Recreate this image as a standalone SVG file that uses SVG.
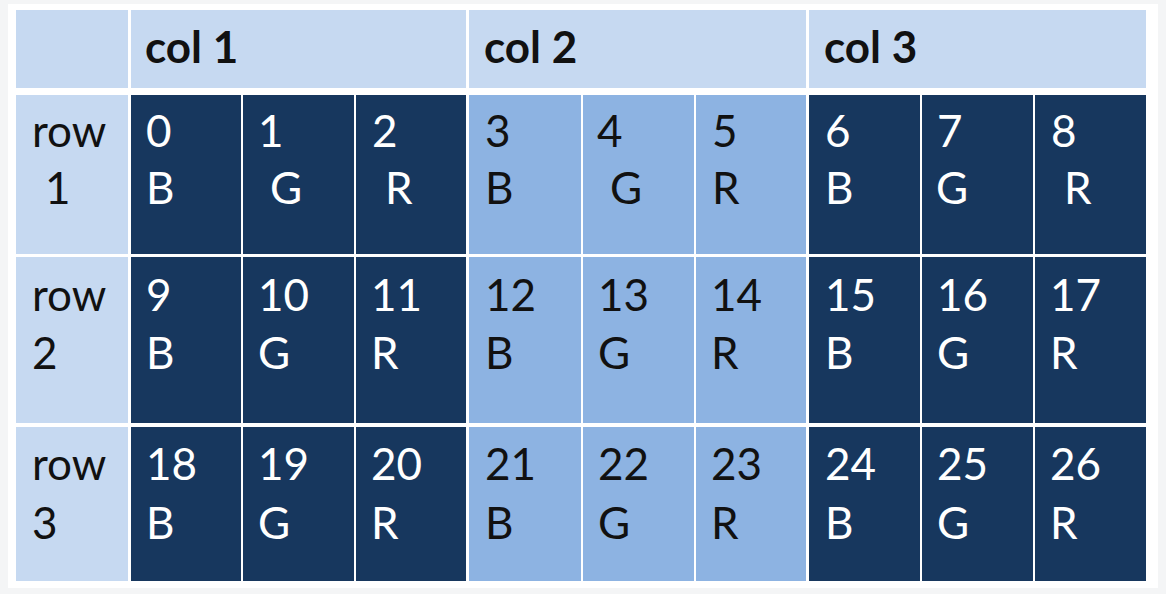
<svg xmlns="http://www.w3.org/2000/svg" width="1166" height="594" viewBox="0 0 1166 594">
<style>
  .hdr{fill:#c6d9f1}
  .lbl{fill:#c6d9f1}
  .dk{fill:#17375e}
  .md{fill:#8db3e2}
  text{font-family:Lato,"Open Sans","Liberation Sans",sans-serif;font-size:44px}
  .b{font-weight:bold;fill:#111}
  .t{fill:#111}
  .w{fill:#ffffff}
</style>
<rect x="0" y="0" width="1166" height="594" fill="#f4f5f6"/>
<rect x="8" y="4" width="1150" height="584" fill="#ffffff"/>

<g id="header">
  <g id="corner"><rect class="hdr" x="16" y="10" width="112" height="78"/></g>
  <g id="col1"><rect class="hdr" x="131" y="10" width="335" height="78"/><text class="b" x="145" y="63">col 1</text></g>
  <g id="col2"><rect class="hdr" x="469" y="10" width="337" height="78"/><text class="b" x="484" y="63">col 2</text></g>
  <g id="col3"><rect class="hdr" x="809" y="10" width="337" height="78"/><text class="b" x="824" y="63">col 3</text></g>
</g>

<g id="row1">
  <g id="row1-label"><rect class="lbl" x="16" y="95" width="112" height="159"/><text class="t" x="32" y="147">row</text><text class="t" x="45" y="204">1</text></g>
  <g id="c0"><rect class="dk" x="131" y="95" width="110" height="159"/><text class="w" x="146" y="147">0</text><text class="w" x="146" y="204">B</text></g>
  <g id="c1"><rect class="dk" x="243" y="95" width="111" height="159"/><text class="w" x="258" y="147">1</text><text class="w" x="270" y="204">G</text></g>
  <g id="c2"><rect class="dk" x="356" y="95" width="110" height="159"/><text class="w" x="372" y="147">2</text><text class="w" x="385" y="204">R</text></g>
  <g id="c3"><rect class="md" x="469" y="95" width="112" height="159"/><text class="t" x="485" y="147">3</text><text class="t" x="485" y="204">B</text></g>
  <g id="c4"><rect class="md" x="583" y="95" width="111" height="159"/><text class="t" x="597" y="147">4</text><text class="t" x="610" y="204">G</text></g>
  <g id="c5"><rect class="md" x="696" y="95" width="110" height="159"/><text class="t" x="712" y="147">5</text><text class="t" x="712" y="204">R</text></g>
  <g id="c6"><rect class="dk" x="809" y="95" width="111" height="159"/><text class="w" x="825" y="147">6</text><text class="w" x="825" y="204">B</text></g>
  <g id="c7"><rect class="dk" x="922" y="95" width="111" height="159"/><text class="w" x="937" y="147">7</text><text class="w" x="936" y="204">G</text></g>
  <g id="c8"><rect class="dk" x="1035" y="95" width="111" height="159"/><text class="w" x="1051" y="147">8</text><text class="w" x="1064" y="204">R</text></g>
</g>

<g id="row2">
  <g id="row2-label"><rect class="lbl" x="16" y="257" width="112" height="166"/><text class="t" x="32" y="311">row</text><text class="t" x="32" y="369">2</text></g>
  <g id="c9"><rect class="dk" x="131" y="257" width="110" height="166"/><text class="w" x="146" y="311">9</text><text class="w" x="146" y="369">B</text></g>
  <g id="c10"><rect class="dk" x="243" y="257" width="111" height="166"/><text class="w" x="258" y="311">10</text><text class="w" x="258" y="369">G</text></g>
  <g id="c11"><rect class="dk" x="356" y="257" width="110" height="166"/><text class="w" x="371" y="311">11</text><text class="w" x="371" y="369">R</text></g>
  <g id="c12"><rect class="md" x="469" y="257" width="112" height="166"/><text class="t" x="485" y="311">12</text><text class="t" x="485" y="369">B</text></g>
  <g id="c13"><rect class="md" x="583" y="257" width="111" height="166"/><text class="t" x="598" y="311">13</text><text class="t" x="598" y="369">G</text></g>
  <g id="c14"><rect class="md" x="696" y="257" width="110" height="166"/><text class="t" x="711" y="311">14</text><text class="t" x="711" y="369">R</text></g>
  <g id="c15"><rect class="dk" x="809" y="257" width="111" height="166"/><text class="w" x="825" y="311">15</text><text class="w" x="825" y="369">B</text></g>
  <g id="c16"><rect class="dk" x="922" y="257" width="111" height="166"/><text class="w" x="937" y="311">16</text><text class="w" x="937" y="369">G</text></g>
  <g id="c17"><rect class="dk" x="1035" y="257" width="111" height="166"/><text class="w" x="1050" y="311">17</text><text class="w" x="1050" y="369">R</text></g>
</g>

<g id="row3">
  <g id="row3-label"><rect class="lbl" x="16" y="427" width="112" height="154"/><text class="t" x="32" y="480">row</text><text class="t" x="32" y="539">3</text></g>
  <g id="c18"><rect class="dk" x="131" y="427" width="110" height="154"/><text class="w" x="146" y="480">18</text><text class="w" x="146" y="539">B</text></g>
  <g id="c19"><rect class="dk" x="243" y="427" width="111" height="154"/><text class="w" x="258" y="480">19</text><text class="w" x="258" y="539">G</text></g>
  <g id="c20"><rect class="dk" x="356" y="427" width="110" height="154"/><text class="w" x="371" y="480">20</text><text class="w" x="371" y="539">R</text></g>
  <g id="c21"><rect class="md" x="469" y="427" width="112" height="154"/><text class="t" x="485" y="480">21</text><text class="t" x="485" y="539">B</text></g>
  <g id="c22"><rect class="md" x="583" y="427" width="111" height="154"/><text class="t" x="598" y="480">22</text><text class="t" x="598" y="539">G</text></g>
  <g id="c23"><rect class="md" x="696" y="427" width="110" height="154"/><text class="t" x="711" y="480">23</text><text class="t" x="711" y="539">R</text></g>
  <g id="c24"><rect class="dk" x="809" y="427" width="111" height="154"/><text class="w" x="825" y="480">24</text><text class="w" x="825" y="539">B</text></g>
  <g id="c25"><rect class="dk" x="922" y="427" width="111" height="154"/><text class="w" x="937" y="480">25</text><text class="w" x="937" y="539">G</text></g>
  <g id="c26"><rect class="dk" x="1035" y="427" width="111" height="154"/><text class="w" x="1050" y="480">26</text><text class="w" x="1050" y="539">R</text></g>
</g>
</svg>
